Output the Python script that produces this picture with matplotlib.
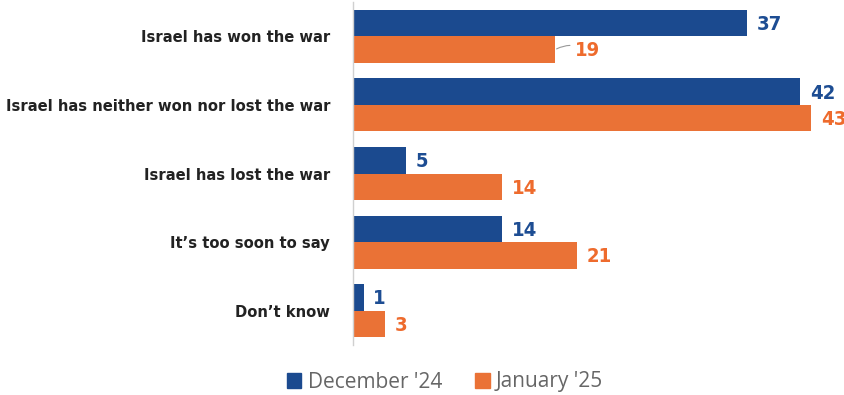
import numpy as np
import matplotlib.pyplot as plt
from matplotlib.patches import Patch

categories = [
    "Israel has won the war",
    "Israel has neither won nor lost the war",
    "Israel has lost the war",
    "It\u2019s too soon to say",
    "Don\u2019t know",
]
dec_24 = [37, 42, 5, 14, 1]
jan_25 = [19, 43, 14, 21, 3]
series_names = ["December '24", "January '25"]

BLUE = "#1b4a8f"
ORANGE = "#ea7236"
BLUE_TXT = "#1d4d93"
ORANGE_TXT = "#ee6b2d"

cond = dict(family="DejaVu Sans", fontstretch="condensed", fontweight="bold")

fig = plt.figure(figsize=(8.45, 3.95), dpi=100)
ax = fig.add_axes([353 / 845, 50 / 395, 1 - 353 / 845, 343 / 395])

y = np.arange(len(categories))
h = 0.386
ax.barh(y - h / 2, dec_24, height=h, color=BLUE)
ax.barh(y + h / 2, jan_25, height=h, color=ORANGE)

ax.set_xlim(0, 492 / 10.65)
ax.set_ylim(len(categories) - 0.5, -0.5)

for i, (a, b) in enumerate(zip(dec_24, jan_25)):
    ax.annotate(str(a), (a, i - h / 2), xytext=(7, -1), textcoords="offset points",
                va="center", ha="left", fontsize=14.5, color=BLUE_TXT, **cond)
    if i == 0:
        # small leader line to the label of the shorter bar
        ax.annotate(str(b), (b, i + h / 2), xytext=(14, -1), textcoords="offset points",
                    va="center", ha="left", fontsize=14.5, color=ORANGE_TXT, **cond,
                    arrowprops=dict(arrowstyle="-", color="#999999", lw=0.8,
                                    shrinkA=1.5, shrinkB=1,
                                    connectionstyle="arc3,rad=0.3"))
    else:
        ax.annotate(str(b), (b, i + h / 2), xytext=(7, -1), textcoords="offset points",
                    va="center", ha="left", fontsize=14.5, color=ORANGE_TXT, **cond)

ax.set_yticks(y)
ax.set_yticklabels(categories, fontsize=11.8, color="#222222", **cond)
ax.tick_params(axis="y", length=0, pad=16.5)
ax.set_xticks([])
for s in ["top", "right", "bottom"]:
    ax.spines[s].set_visible(False)
ax.spines["left"].set_color("#d0d0d0")
ax.spines["left"].set_linewidth(1.0)

handles = [Patch(color=BLUE), Patch(color=ORANGE)]
fig.legend(handles, series_names, loc="center", bbox_to_anchor=(445 / 845, 13 / 395),
           ncol=2, frameon=False, labelcolor="#666666",
           handlelength=0.7, handleheight=0.7, handletextpad=0.3, columnspacing=1.6,
           prop={"family": "Open Sans", "size": 15})

fig.savefig("out.png", dpi=100)
